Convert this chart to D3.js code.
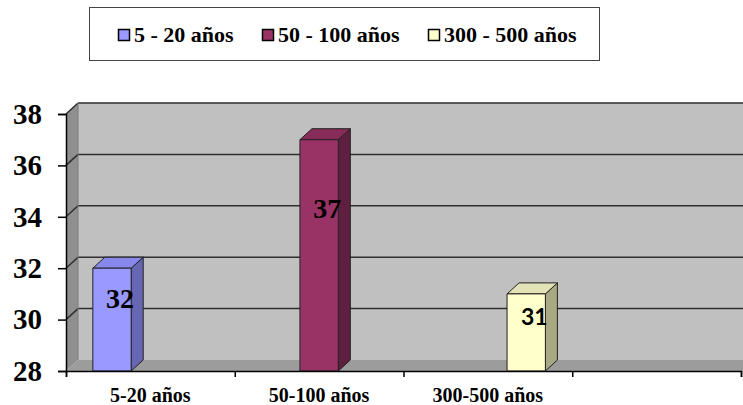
<!DOCTYPE html>
<html>
<head>
<meta charset="utf-8">
<script src="https://cdn.jsdelivr.net/npm/d3@7"></script>
<style>
  html, body { margin: 0; padding: 0; background: #fff; }
  svg { display: block; }
</style>
</head>
<body>
<svg id="chart" width="743" height="405"></svg>
<script>
// Categories on the x axis (the fourth slot is left empty)
const categories = ["5-20 años", "50-100 años", "300-500 años", ""];
// Series names, shown in the legend
const seriesNames = ["5 - 20 años", "50 - 100 años", "300 - 500 años"];
// Each series only has a value in its own category
const seriesValues = [
  [32, null, null, null],
  [null, 37, null, null],
  [null, null, 31, null]
];
// Value axis ticks
const yTicks = [28, 30, 32, 34, 36, 38];

const SERIF = "Liberation Serif";
const SANS = "Lato";

const colors = [
  { front: "#9999FF", side: "#6666B3", top: "#8888EC" },
  { front: "#993366", side: "#5E1F40", top: "#872C59" },
  { front: "#FFFFCC", side: "#A8A882", top: "#E3E3B8" }
];
const labelFonts = [SERIF, SERIF, SANS];
const labelSizes = [28, 28, 23];

const svg = d3.select("#chart");

// Plot geometry
const left = 66, right = 741, bottom = 371;
const depthX = 12, depthY = -11;

const y = d3.scaleLinear().domain([28, 38]).range([bottom, 114]);
const x0 = d3.scaleBand().domain(categories.map((c, i) => i)).range([left, right]).padding(0);
const x1 = d3.scaleBand().domain(d3.range(seriesNames.length)).range([0, x0.bandwidth()])
  .paddingInner(0).paddingOuter(0.7);

const yTop = y(38);

// Back wall
svg.append("rect")
  .attr("x", left + depthX).attr("y", yTop + depthY)
  .attr("width", 743 - left - depthX).attr("height", bottom - yTop)
  .attr("fill", "#C0C0C0");

// Side wall
svg.append("polygon")
  .attr("points", [[left, yTop], [left + depthX, yTop + depthY], [left + depthX, bottom + depthY], [left, bottom]].join(" "))
  .attr("fill", "#8F8F8F");

// Floor
svg.append("polygon")
  .attr("points", [[left, bottom], [left + depthX, bottom + depthY], [743, bottom + depthY], [743, bottom]].join(" "))
  .attr("fill", "#9C9C9C");

// Gridlines on back wall and side wall
const grid = svg.append("g").attr("stroke", "#2E2E2E").attr("stroke-width", 1.5).attr("fill", "none");
yTicks.forEach(t => {
  if (t === 28) return;
  grid.append("line")
    .attr("x1", left + depthX).attr("x2", 743)
    .attr("y1", y(t) + depthY).attr("y2", y(t) + depthY);
  grid.append("line")
    .attr("x1", left).attr("x2", left + depthX)
    .attr("y1", y(t)).attr("y2", y(t) + depthY);
});
// Wall edge
svg.append("line")
  .attr("x1", left + depthX).attr("x2", left + depthX)
  .attr("y1", yTop + depthY).attr("y2", bottom + depthY)
  .attr("stroke", "#7A7A7A").attr("stroke-width", 1);

// Bars (3D columns)
const bars = svg.append("g");
const labels = svg.append("g");
seriesValues.forEach((vals, s) => {
  vals.forEach((v, c) => {
    if (v == null) return;
    const bx = x0(c) + x1(s);
    const bw = x1.bandwidth();
    const by = y(v);
    const c0 = colors[s];
    const g = bars.append("g").attr("stroke", "#222").attr("stroke-width", 1).attr("stroke-linejoin", "round");
    // side face
    g.append("polygon")
      .attr("points", [[bx + bw, by], [bx + bw + depthX, by + depthY], [bx + bw + depthX, bottom + depthY], [bx + bw, bottom]].join(" "))
      .attr("fill", c0.side);
    // top face
    g.append("polygon")
      .attr("points", [[bx, by], [bx + depthX, by + depthY], [bx + bw + depthX, by + depthY], [bx + bw, by]].join(" "))
      .attr("fill", c0.top);
    // front face
    g.append("rect")
      .attr("x", bx).attr("y", by).attr("width", bw).attr("height", bottom - by)
      .attr("fill", c0.front);
    // value label, set a little into the column
    labels.append("text")
      .attr("x", bx + bw / 2 + 8)
      .attr("y", y(28 + 0.7 * (v - 28)))
      .attr("dy", "0.33em")
      .attr("text-anchor", "middle")
      .attr("font-family", labelFonts[s])
      .attr("font-weight", "bold")
      .attr("font-size", labelSizes[s])
      .attr("fill", "#000")
      .text(v);
  });
});

// Y axis
const yAxis = svg.append("g")
  .attr("transform", `translate(${left},0)`)
  .call(d3.axisLeft(y).tickValues(yTicks).tickSize(8).tickPadding(16).tickFormat(d3.format("d")));
yAxis.attr("font-family", SERIF).attr("font-weight", "bold").attr("font-size", 29);
yAxis.select(".domain").attr("stroke", "#000").attr("stroke-width", 1.5);
yAxis.selectAll(".tick line").attr("stroke", "#000").attr("stroke-width", 1.5);
yAxis.selectAll("text").attr("fill", "#000");

// X axis
const xAxisScale = d3.scaleLinear().domain([0, categories.length]).range([left, right]);
const xAxis = svg.append("g")
  .attr("transform", `translate(0,${bottom})`)
  .call(d3.axisBottom(xAxisScale).tickValues(d3.range(categories.length + 1)).tickSize(6).tickFormat(""));
xAxis.select(".domain").attr("stroke", "#000").attr("stroke-width", 1.5);
xAxis.selectAll(".tick line").attr("stroke", "#000").attr("stroke-width", 1.5);

svg.append("g")
  .attr("font-family", SERIF).attr("font-weight", "bold").attr("font-size", 20)
  .selectAll("text")
  .data(categories)
  .join("text")
  .attr("x", (d, i) => x0(i) + x0.bandwidth() / 2)
  .attr("y", 402)
  .attr("text-anchor", "middle")
  .attr("fill", "#000")
  .text(d => d);

// Legend
const legend = svg.append("g")
  .attr("font-family", SERIF).attr("font-weight", "bold").attr("font-size", 22);
legend.append("rect")
  .attr("x", 89.5).attr("y", 7.5).attr("width", 510).attr("height", 53)
  .attr("fill", "#fff").attr("stroke", "#444").attr("stroke-width", 1);
const legendX = [118, 262, 428];
seriesNames.forEach((name, i) => {
  legend.append("rect")
    .attr("x", legendX[i] + 0.5).attr("y", 29.5).attr("width", 11).attr("height", 11)
    .attr("fill", colors[i].front).attr("stroke", "#000").attr("stroke-width", 1.5);
  legend.append("text")
    .attr("x", legendX[i] + 16).attr("y", 42)
    .attr("fill", "#000")
    .text(name);
});
</script>
</body>
</html>
